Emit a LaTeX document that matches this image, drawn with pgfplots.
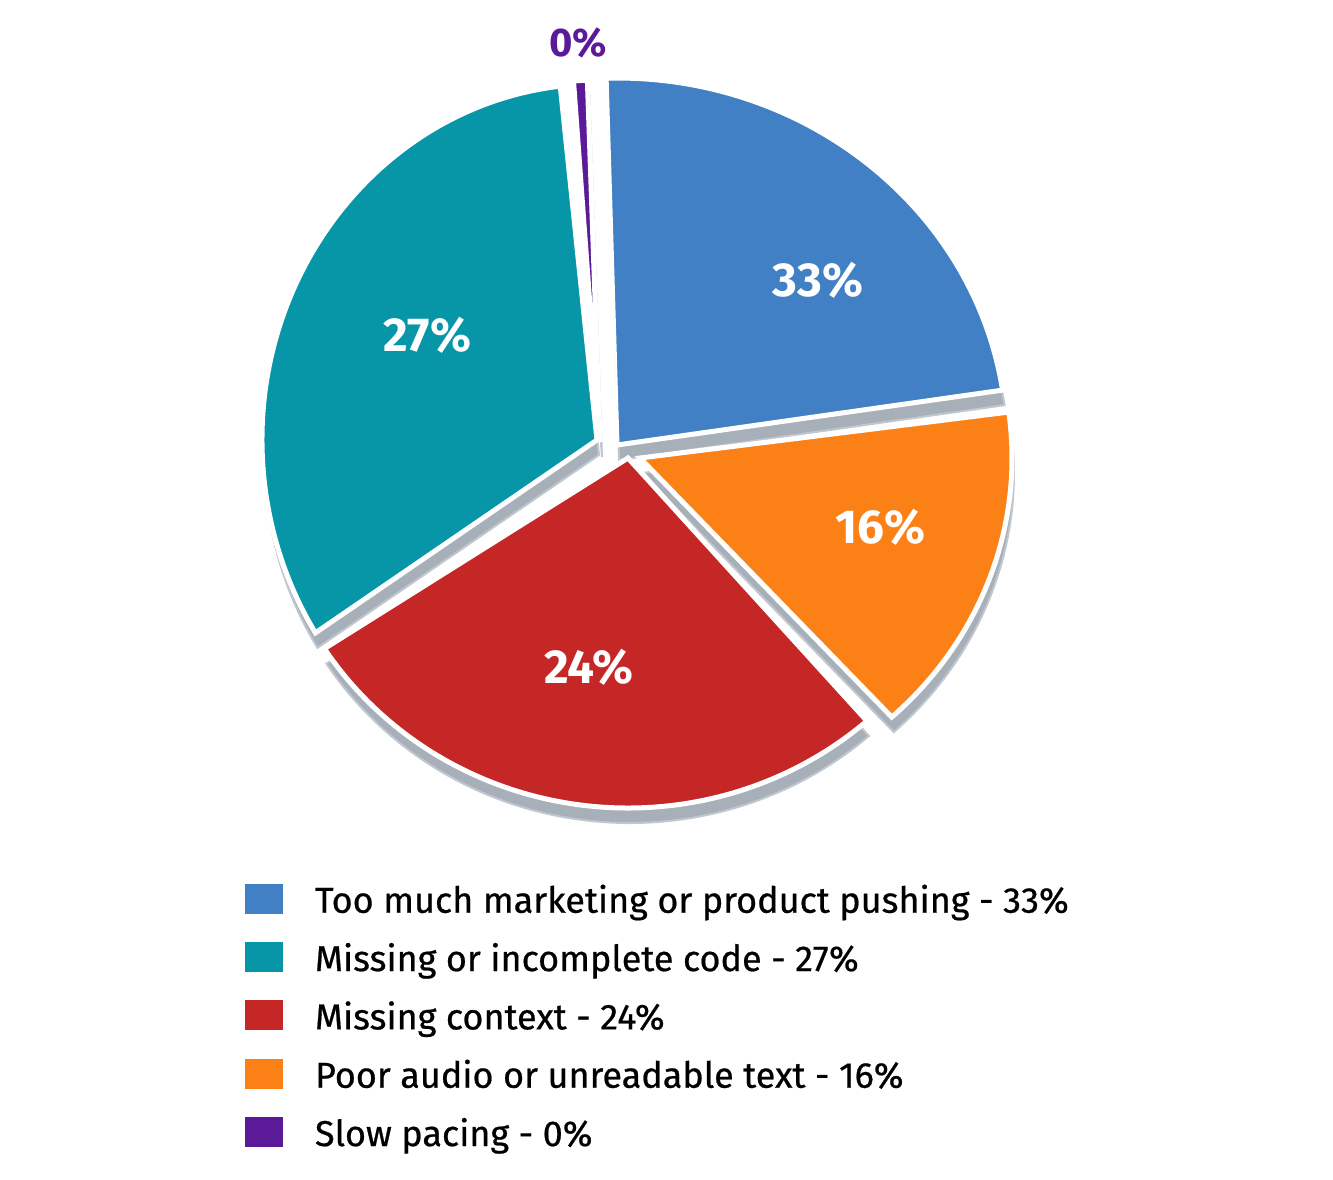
\documentclass[border=0pt]{standalone}
\usepackage{fontspec}
\setmainfont{Fira Sans}
\usepackage{pgfplots}
\usepackage{pgfplotstable}
\pgfplotsset{compat=1.18}

\definecolor{pieA}{HTML}{4180C4}
\definecolor{pieB}{HTML}{0796A8}
\definecolor{pieC}{HTML}{C42726}
\definecolor{pieD}{HTML}{FB8116}
\definecolor{pieE}{HTML}{5B1A98}
\definecolor{side}{HTML}{A7AFB9}

% one row per slice, positions in pixels of the picture (y downwards)
% a, b: start and end angle; rx, ry: radii; lx, ly: label place
\pgfplotstableread{
pct cx  cy  rx  ry  a     b     lx  ly  col
33  617 445 390 367 8.6   91.6  818 280 pieA
27  597 440 335 356 96.3  212.8 427 335 pieB
24  628 458 362 350 213   311.3 589 667 pieC
16  640 458 372 352 -47.4 7.5   880 527 pieD
0   600 442 362 362 92    94.2  578 43  pieE
}\slices

\pgfplotsset{sqleg/.style={legend image code/.code={\fill[##1, draw=none] (0pt,-3.3pt) rectangle (11.4pt,5.7pt);}}}

\newcommand\slicepath[6]{(axis cs:#1,#2) -- ++(#5:#3*0.3pt and #4*0.3pt) arc[start angle=#5,end angle=#6,x radius=#3*0.3pt,y radius=#4*0.3pt] -- cycle}
\newcommand\getrow[1]{%
  \pgfplotstablegetelem{#1}{cx}\of\slices\let\cx\pgfplotsretval
  \pgfplotstablegetelem{#1}{cy}\of\slices\let\cy\pgfplotsretval
  \pgfplotstablegetelem{#1}{rx}\of\slices\let\rx\pgfplotsretval
  \pgfplotstablegetelem{#1}{ry}\of\slices\let\ry\pgfplotsretval
  \pgfplotstablegetelem{#1}{a}\of\slices\let\sa\pgfplotsretval
  \pgfplotstablegetelem{#1}{b}\of\slices\let\sb\pgfplotsretval
  \pgfplotstablegetelem{#1}{lx}\of\slices\let\lx\pgfplotsretval
  \pgfplotstablegetelem{#1}{ly}\of\slices\let\ly\pgfplotsretval
  \pgfplotstablegetelem{#1}{pct}\of\slices\let\pct\pgfplotsretval
  \pgfplotstablegetelem{#1}{col}\of\slices\let\col\pgfplotsretval}

\begin{document}
\begin{tikzpicture}
\begin{axis}[
    x=0.3pt, y=0.3pt,
    xmin=0, xmax=1333, ymin=0, ymax=1180,
    y dir=reverse,
    hide axis, clip=false,
    legend cell align=left,
    legend style={at={(0.1838,0.2511)}, anchor=north west, draw=none, fill=none,
        inner sep=0pt, outer sep=0pt, row sep=6.3pt,
        font=\fontsize{10.8}{13}\selectfont\addfontfeatures{FakeBold=0.6}, text=black,
        nodes={inner sep=0pt, text height=8.5pt, text depth=2.5pt},
        /tikz/column 1/.style={column sep=9.6pt}},
  ]
  % keep the whole frame of the picture
  \path (rel axis cs:0,0) rectangle (rel axis cs:1,1);
  % grey sides
  \pgfplotsforeachungrouped \i in {0,...,4}{
    \getrow{\i}
    \edef\tmp{\noexpand\fill[side, draw=side!70!white, line width=0.6pt, xshift=0.6pt, yshift=-4.5pt]
      \noexpand\slicepath{\cx}{\cy}{\rx}{\ry}{\sa}{\sb};}\tmp
  }
  % faces
  \pgfplotsforeachungrouped \i in {0,...,4}{
    \getrow{\i}
    \edef\tmp{\noexpand\filldraw[fill=\col, draw=white, line width=1.5pt]
      \noexpand\slicepath{\cx}{\cy}{\rx}{\ry}{\sa}{\sb};}\tmp
  }
  % labels
  \pgfplotsforeachungrouped \i in {0,...,3}{
    \getrow{\i}
    \edef\tmp{\noexpand\node[white, font=\noexpand\bfseries\noexpand\fontsize{14.3}{16}\noexpand\selectfont]
      at (axis cs:\lx,\ly) {\pct\noexpand\%};}\tmp
  }
  \getrow{4}
  \edef\tmp{\noexpand\node[text=pieE, font=\noexpand\bfseries\noexpand\fontsize{12}{14}\noexpand\selectfont]
    at (axis cs:\lx,\ly) {\pct\noexpand\%};}\tmp

  \addlegendimage{sqleg, fill=pieA}
  \addlegendentry{Too much marketing or product pushing - 33\%}
  \addlegendimage{sqleg, fill=pieB}
  \addlegendentry{Missing or incomplete code - 27\%}
  \addlegendimage{sqleg, fill=pieC}
  \addlegendentry{Missing context - 24\%}
  \addlegendimage{sqleg, fill=pieD}
  \addlegendentry{Poor audio or unreadable text - 16\%}
  \addlegendimage{sqleg, fill=pieE}
  \addlegendentry{Slow pacing - 0\%}
\end{axis}
\end{tikzpicture}
\end{document}
